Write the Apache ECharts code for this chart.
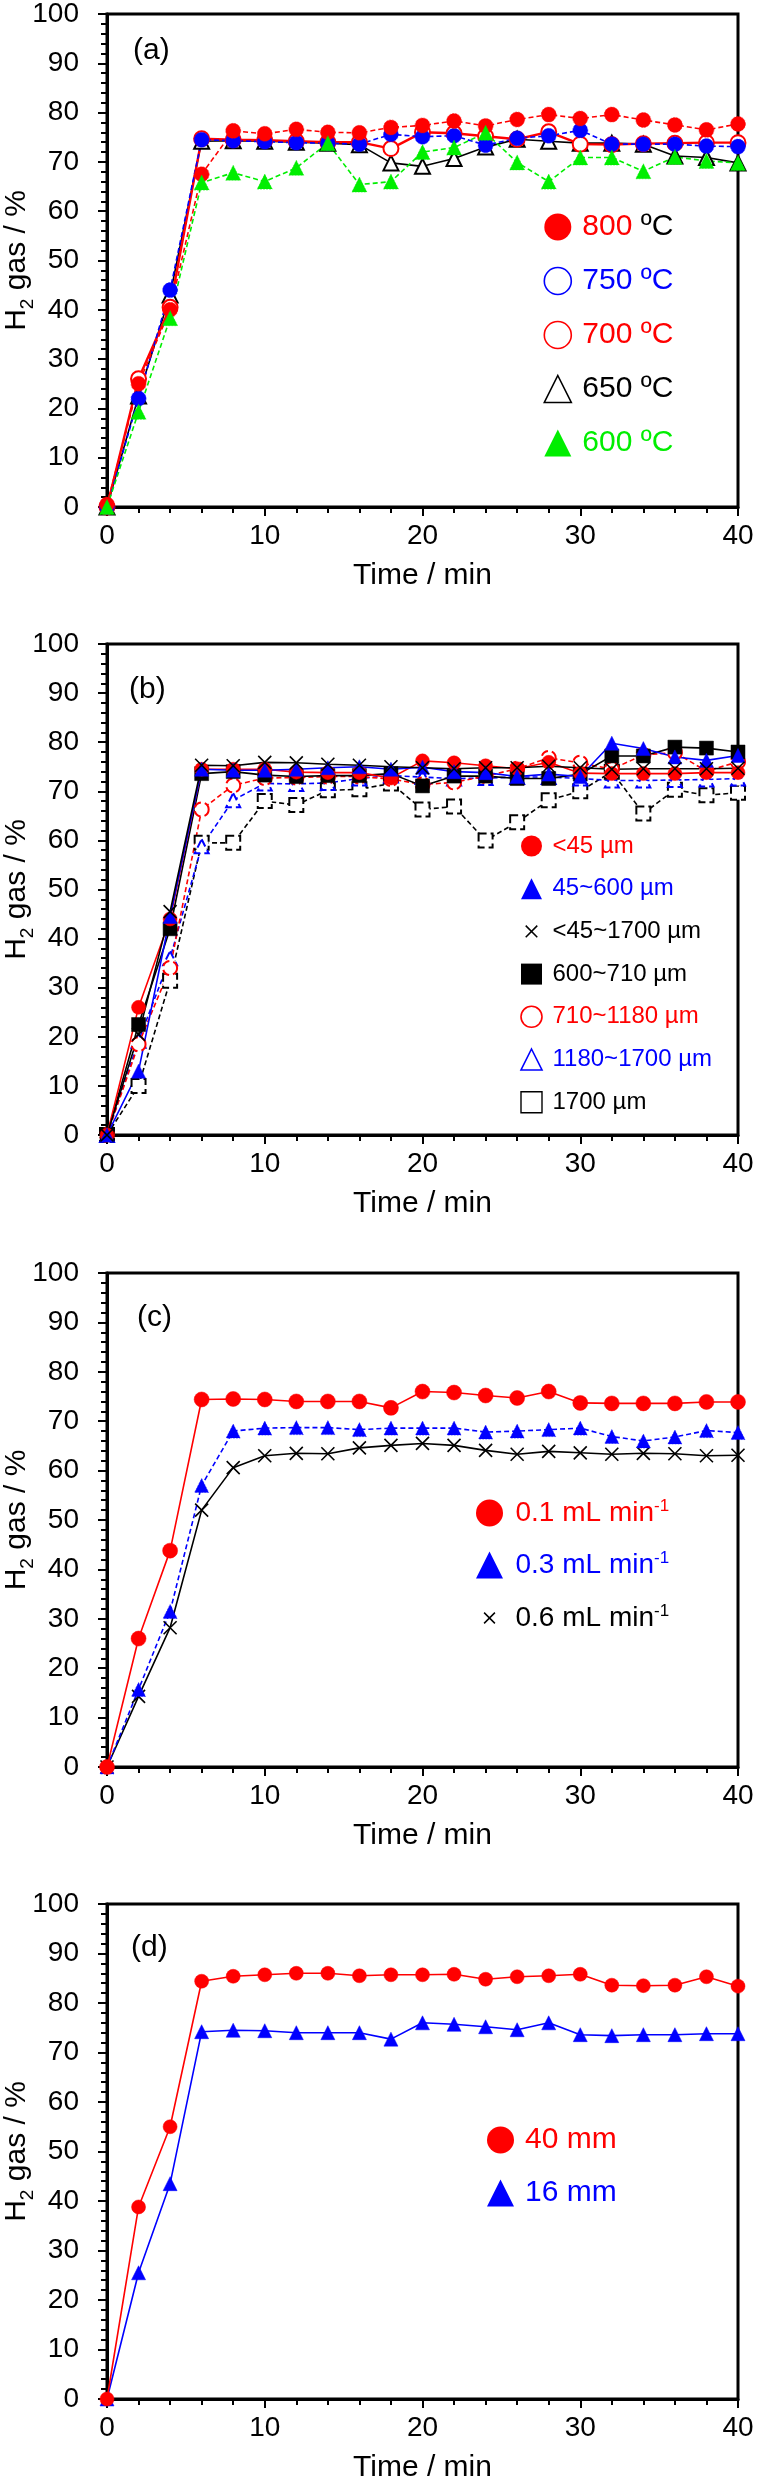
<!DOCTYPE html>
<html>
<head>
<meta charset="utf-8">
<script src="https://cdn.jsdelivr.net/npm/echarts@6/dist/echarts.min.js"></script>
<style>
html,body{margin:0;padding:0;background:#fff;}
#chart{width:757px;height:2479px;}
</style>
</head>
<body>
<div id="chart"></div>
<script>
// ---------- data ----------
var time = [0, 2, 4, 6, 8, 10, 12, 14, 16, 18, 20, 22, 24, 26, 28, 30, 32, 34, 36, 38, 40];
var xTicks = [0, 10, 20, 30, 40];
var yTicks = [0, 10, 20, 30, 40, 50, 60, 70, 80, 90, 100];

// (a) temperature
var a800 = [0.5, 25, 40, 67.5, 76.3, 75.7, 76.6, 76, 75.9, 77, 77.4, 78.3, 77.3, 78.6, 79.6, 78.8, 79.6, 78.5, 77.5, 76.5, 77.7];
var a750 = [0, 22, 44, 74.5, 74.3, 74.1, 73.9, 73.8, 73.6, 75.6, 75.1, 75.3, 73.4, 74.8, 75.3, 76.4, 73.6, 73.6, 73.6, 73.2, 73.1];
var a700 = [0, 26, 40.5, 74.7, 74.5, 74.4, 74.2, 74, 74, 72.7, 76, 75.8, 75.2, 74.6, 76.1, 73.6, 73.5, 73.7, 73.8, 73.9, 73.9];
var a650 = [0, 22.5, 43, 74.2, 74.3, 74.2, 74, 73.8, 73.5, 69.8, 69.1, 70.7, 73, 74.6, 74.2, 73.8, 73.8, 73.6, 71.2, 70.9, 69.8];
var a600 = [0, 19.3, 38.3, 65.8, 67.8, 66, 68.8, 73.8, 65.4, 66, 72, 72.9, 75.9, 69.9, 66, 70.9, 70.9, 68.1, 71, 70.2, 69.8];
var aNames = ['800 ºC', '750 ºC', '700 ºC', '650 ºC', '600 ºC'];

// (b) particle size
var b45 = [0, 26, 44, 74.5, 74.5, 74.5, 73.9, 73.8, 73.8, 72.7, 76.2, 75.8, 75.2, 74.6, 75.9, 73.7, 73.6, 73.6, 73.6, 73.8, 73.8];
var b45_600 = [0, 13, 44.5, 74.5, 74.3, 74.3, 74.5, 74.8, 75, 74.5, 74.9, 74, 73.8, 73, 73.5, 73, 79.8, 78.7, 77, 76.3, 77.3];
var b45_1700 = [0, 20.5, 45.5, 75.3, 75.2, 75.9, 75.8, 75.5, 75.3, 75, 74.8, 74.6, 74.8, 74.8, 75.1, 74.8, 74.5, 74.6, 74.6, 74.6, 74.7];
var b600_710 = [0, 22.5, 42, 73.6, 74, 73.3, 73, 73.2, 73.2, 73.6, 71.1, 73.1, 73.1, 72.6, 72.6, 73.5, 77.2, 77.2, 79, 78.8, 78];
var b710_1180 = [0, 18.5, 34, 66.3, 71.2, 72.7, 72.8, 73, 73, 72.5, 71.4, 71.8, 73.1, 74.6, 76.8, 75.8, 74.5, 77.4, 77.9, 74.1, 76];
var b1180_1700 = [0, 19.2, 36, 58.8, 68.2, 71.6, 71.5, 71.7, 72.6, 73.2, 72.9, 72.6, 72.7, 72.9, 72.9, 72.6, 72.2, 72.2, 72.3, 72.4, 72.6];
var b1700 = [0, 10, 31.4, 59.5, 59.5, 68, 67.2, 70.2, 70.4, 71.6, 66.3, 66.9, 60, 63.7, 68.2, 70, 74, 65.5, 70.3, 69.2, 69.7];
var bNames = ['<45 µm', '45~600 µm', '<45~1700 µm', '600~710 µm', '710~1180 µm', '1180~1700 µm', '1700 µm'];

// (c) flow rate
var c01 = [0, 26, 43.8, 74.4, 74.5, 74.4, 74, 74, 74, 72.7, 76, 75.8, 75.2, 74.7, 76, 73.7, 73.6, 73.6, 73.6, 73.9, 73.9];
var c03 = [0, 15.7, 31.5, 57, 68, 68.6, 68.7, 68.7, 68.3, 68.6, 68.6, 68.6, 67.8, 68, 68.3, 68.6, 66.9, 66, 66.8, 68.1, 67.7];
var c06 = [0, 14.3, 28.2, 52, 60.6, 63, 63.5, 63.4, 64.6, 65.1, 65.5, 65.1, 64.1, 63.3, 63.9, 63.6, 63.3, 63.5, 63.4, 63, 63.1];
var cNames = ['0.1 mL min-1', '0.3 mL min-1', '0.6 mL min-1'];

// (d) bed height
var d40 = [0, 38.8, 55, 84.4, 85.4, 85.7, 86, 86, 85.5, 85.7, 85.7, 85.8, 84.8, 85.3, 85.5, 85.8, 83.6, 83.5, 83.6, 85.3, 83.4];
var d16 = [0, 25.5, 43.5, 74.2, 74.5, 74.4, 74, 74, 74, 72.7, 76, 75.7, 75.2, 74.6, 76, 73.6, 73.4, 73.6, 73.6, 73.8, 73.8];
var dNames = ['40 mm', '16 mm'];

var panelLabels = ['(a)', '(b)', '(c)', '(d)'];

// ---------- style ----------
var FONT = "'Liberation Sans', Arial, Helvetica, sans-serif";
var RED = '#ff0000', BLUE = '#0000ff', GREEN = '#00ee00', BLACK = '#000000';
var CROSS = 'path://M0,0L10,10M10,0L0,10';
var SQUARE_ICON = 'path://M1,1L19,1L19,19L1,19Z';
function crossIcon(pad) {
  var a = pad, b = 20 - pad;
  return 'path://M0,0L0,0M20,20L20,20M' + a + ',' + a + 'L' + b + ',' + b + 'M' + b + ',' + a + 'L' + a + ',' + b;
}

var grids = [
  {left: 107, width: 631, top: 14, height: 493},
  {left: 107, width: 631, top: 644, height: 491},
  {left: 107, width: 631, top: 1273, height: 494},
  {left: 107, width: 631, top: 1904, height: 495}
];
var labelPos = [[133, 36], [129, 675], [137, 1303], [131, 1933]];

function pts(arr) { return time.map(function (t, i) { return [t, arr[i]]; }); }

function line(name, gi, arr, symbol, color, dashed, opts) {
  opts = opts || {};
  var isCross = symbol === CROSS;
  var isEmpty = /^empty/.test(symbol);
  return {
    name: name, type: 'line', xAxisIndex: gi, yAxisIndex: gi,
    data: pts(arr), symbol: symbol, symbolSize: opts.size || 15,
    showAllSymbol: true, animation: false,
    lineStyle: {color: color, width: opts.lw || 1.6, type: dashed ? [5, 3] : 'solid'},
    itemStyle: isCross ? {color: 'none', borderColor: color, borderWidth: 1.6}
      : isEmpty ? {color: color, borderColor: color, borderWidth: 1.6, borderType: opts.borderType || 'solid'}
      : {color: color, borderColor: color, borderWidth: 0.5, borderType: dashed ? 'dashed' : 'solid'},
    emphasis: {disabled: true},
    z: opts.z || 2
  };
}

var xAxes = [], yAxes = [], titles = [];
grids.forEach(function (g, i) {
  xAxes.push({
    type: 'value', gridIndex: i, min: xTicks[0], max: xTicks[xTicks.length - 1], interval: xTicks[1] - xTicks[0],
    axisLine: {onZero: false, lineStyle: {color: BLACK, width: 3}},
    axisTick: {show: true, inside: false, length: 9, lineStyle: {color: BLACK, width: 2}},
    minorTick: {show: true, splitNumber: 5, length: 6, lineStyle: {color: BLACK, width: 2}},
    splitLine: {show: false}, minorSplitLine: {show: false},
    axisLabel: {fontSize: 28, color: BLACK, margin: 15, fontFamily: FONT},
    name: 'Time / min', nameLocation: 'middle', nameGap: 54, nameMoveOverlap: false,
    nameTextStyle: {fontSize: 30, color: BLACK, fontFamily: FONT}
  });
  yAxes.push({
    type: 'value', gridIndex: i, min: yTicks[0], max: yTicks[yTicks.length - 1], interval: yTicks[1] - yTicks[0],
    axisLine: {onZero: false, lineStyle: {color: BLACK, width: 3}},
    axisTick: {show: true, inside: false, length: 9, lineStyle: {color: BLACK, width: 2}},
    minorTick: {show: true, splitNumber: 5, length: 6, lineStyle: {color: BLACK, width: 2}},
    splitLine: {show: false}, minorSplitLine: {show: false},
    axisLabel: {fontSize: 28, color: BLACK, margin: 28, fontFamily: FONT},
    name: '{m|H}{s|2}{m| gas / %}', nameLocation: 'middle', nameGap: 70, nameMoveOverlap: false,
    nameTextStyle: {fontSize: 30, color: BLACK, fontFamily: FONT,
      rich: {m: {fontSize: 30, lineHeight: 40, fontFamily: FONT, color: BLACK},
             s: {fontSize: 19, lineHeight: 19, verticalAlign: 'bottom', fontFamily: FONT, color: BLACK}}}
  });
  titles.push({
    text: panelLabels[i], left: labelPos[i][0], top: labelPos[i][1], padding: 0,
    textStyle: {fontSize: 30, fontWeight: 'normal', color: BLACK, fontFamily: FONT}
  });
});

var series = [
  // (a)
  line(aNames[3], 0, a650, 'emptyTriangle', BLACK, false),
  line(aNames[2], 0, a700, 'emptyCircle', RED, false, {lw: 2.4}),
  line(aNames[1], 0, a750, 'circle', BLUE, true),
  line(aNames[0], 0, a800, 'circle', RED, true),
  line(aNames[4], 0, a600, 'triangle', GREEN, true),
  // (b)
  line(bNames[6], 1, b1700, 'emptyRect', BLACK, true, {size: 14, borderType: 'dashed'}),
  line(bNames[5], 1, b1180_1700, 'emptyTriangle', BLUE, true, {size: 14, borderType: 'dashed'}),
  line(bNames[4], 1, b710_1180, 'emptyCircle', RED, true, {size: 14, borderType: 'dashed'}),
  line(bNames[3], 1, b600_710, 'rect', BLACK, false, {size: 14}),
  line(bNames[0], 1, b45, 'circle', RED, false, {size: 14}),
  line(bNames[1], 1, b45_600, 'triangle', BLUE, false, {size: 14}),
  line(bNames[2], 1, b45_1700, CROSS, BLACK, false, {size: 13}),
  // (c)
  line(cNames[2], 2, c06, CROSS, BLACK, false, {size: 13}),
  line(cNames[1], 2, c03, 'triangle', BLUE, true, {size: 14}),
  line(cNames[0], 2, c01, 'circle', RED, false, {size: 15}),
  // (d)
  line(dNames[1], 3, d16, 'triangle', BLUE, false, {size: 14}),
  line(dNames[0], 3, d40, 'circle', RED, false, {size: 14})
];

function item(name, icon, color, fill, textColor, bw) {
  return {
    name: name, icon: icon,
    itemStyle: {color: fill, borderColor: color, borderWidth: bw == null ? (fill === color ? 0 : 1.6) : bw},
    textStyle: {color: textColor || color}
  };
}

var legends = [
  {
    left: 543.5, top: 212, itemWidth: 27, itemHeight: 27, itemGap: 24,
    data: [
      item(aNames[0], 'circle', RED, RED, RED),
      item(aNames[1], 'circle', BLUE, '#fff', BLUE),
      item(aNames[2], 'circle', RED, '#fff', RED),
      item(aNames[3], 'triangle', BLACK, '#fff', BLACK),
      item(aNames[4], 'triangle', GREEN, GREEN, GREEN)
    ],
    formatter: function (n) { return n === aNames[0] ? '{r|800} {k|ºC}' : n; },
    textStyle: {fontSize: 30, lineHeight: 30, fontFamily: FONT, padding: [0, 0, 0, 6],
      rich: {r: {color: RED, fontSize: 30, lineHeight: 30, fontFamily: FONT},
             k: {color: BLACK, fontSize: 30, lineHeight: 30, fontFamily: FONT}}}
  },
  {
    left: 518.5, top: 833, itemWidth: 21, itemHeight: 21, itemGap: 16.7,
    data: [
      item(bNames[0], 'circle', RED, RED, RED),
      item(bNames[1], 'triangle', BLUE, BLUE, BLUE),
      item(bNames[2], crossIcon(4.5), BLACK, 'none', BLACK, 1.5),
      item(bNames[3], 'rect', BLACK, BLACK, BLACK),
      item(bNames[4], 'circle', RED, '#fff', RED),
      item(bNames[5], 'triangle', BLUE, '#fff', BLUE),
      item(bNames[6], SQUARE_ICON, BLACK, '#fff', BLACK, 1.4)
    ],
    textStyle: {fontSize: 24, lineHeight: 26, fontFamily: FONT, padding: [0, 0, 0, 5.5]}
  },
  {
    left: 473.5, top: 1498, itemWidth: 27, itemHeight: 27, itemGap: 22,
    data: [
      item(cNames[0], 'circle', RED, RED, RED),
      item(cNames[1], 'triangle', BLUE, BLUE, BLUE),
      item(cNames[2], crossIcon(6), BLACK, 'none', BLACK, 1.5)
    ],
    formatter: function (n) { return '{t|' + n.replace('-1', '') + '}{s|-1}'; },
    textStyle: {fontSize: 28, lineHeight: 30, fontFamily: FONT, padding: [0, 0, 0, 7.5],
      rich: {t: {fontSize: 28, lineHeight: 30, fontFamily: FONT},
             s: {fontSize: 17, lineHeight: 17, verticalAlign: 'top', fontFamily: FONT}}}
  },
  {
    left: 487, top: 2125, itemWidth: 27, itemHeight: 27, itemGap: 23,
    data: [
      item(dNames[0], 'circle', RED, RED, RED),
      item(dNames[1], 'triangle', BLUE, BLUE, BLUE)
    ],
    textStyle: {fontSize: 30, lineHeight: 30, fontFamily: FONT, padding: [0, 0, 0, 6]}
  }
];
legends.forEach(function (l) { l.orient = 'vertical'; l.selectedMode = false; l.padding = 0; });

var chart = echarts.init(document.getElementById('chart'), null, {renderer: 'canvas'});
chart.setOption({
  animation: false,
  backgroundColor: '#fff',
  textStyle: {fontFamily: FONT},
  title: titles,
  grid: grids.map(function (g) {
    return Object.assign({show: true, borderColor: BLACK, borderWidth: 3, backgroundColor: 'transparent',
      containLabel: false, outerBoundsMode: 'none'}, g);
  }),
  xAxis: xAxes,
  yAxis: yAxes,
  legend: legends,
  series: series
});
</script>
</body>
</html>
